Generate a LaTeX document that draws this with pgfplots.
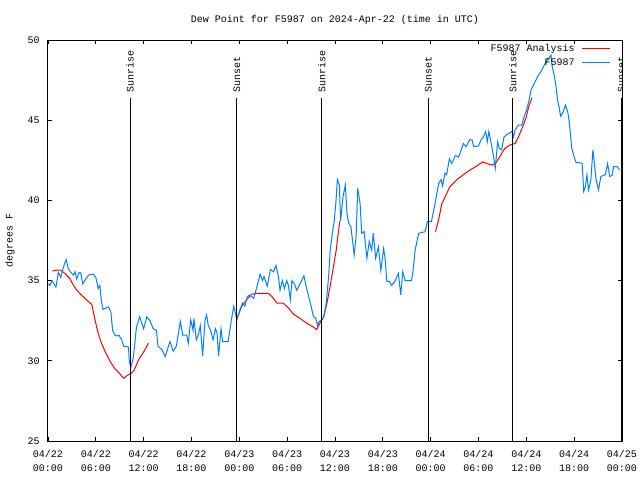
\documentclass[border=0pt]{standalone}
\usepackage{pgfplots}
\pgfplotsset{compat=1.18}
\usepackage{fontspec}
\setmainfont{Liberation Mono}
\definecolor{obsblue}{RGB}{0,128,255}
\definecolor{anred}{RGB}{255,0,0}
\begin{document}
\fontsize{7.5}{8.5}\selectfont
\begin{tikzpicture}
\useasboundingbox (0,0) rectangle (480pt,360pt);
\begin{axis}[
  at={(36pt,29.25pt)}, anchor=south west,
  scale only axis, width=430.5pt, height=300.75pt,
  xmin=0, xmax=72, ymin=25, ymax=50,
  xtick={0,6,...,72},
  xticklabels={{04/22\\00:00},{04/22\\06:00},{04/22\\12:00},{04/22\\18:00},{04/23\\00:00},{04/23\\06:00},{04/23\\12:00},{04/23\\18:00},{04/24\\00:00},{04/24\\06:00},{04/24\\12:00},{04/24\\18:00},{04/25\\00:00}},
  xticklabel style={align=center, font=\fontsize{7.5}{10.5}\selectfont, yshift=-4.5pt},
  yticklabel style={font=\fontsize{7.5}{8.5}\selectfont, xshift=-3.5pt},
  ytick={25,30,...,50},
  tick align=inside, major tick length=3pt,
  tick style={black, line width=0.6pt},
  axis line style={line width=0.75pt},
  /pgf/number format/assume math mode=true,
  title={Dew Point for F5987 on 2024-Apr-22 (time in UTC)},
  title style={at={(0.5,1)}, anchor=base, yshift=7pt, font=\fontsize{7.5}{8.5}\selectfont},
  ylabel={degrees F},
  ylabel style={at={(axis description cs:-0.066,0.5)}, anchor=center, font=\fontsize{7.5}{8.5}\selectfont},
]
\addplot[anred, line width=0.75pt] coordinates {
(0.55,35.6)(1.1,35.65)(1.6,35.65)(2.1,35.45)(2.7,35.15)(3.2,34.7)(3.6,34.4)(4.2,34.1)(4.85,33.8)(5.5,33.5)(5.9,32.55)(6.3,31.7)(6.7,31.1)(7.15,30.6)(7.8,29.95)(8.4,29.5)(9.0,29.2)(9.5,28.9)(9.95,29.1)(10.4,29.2)(10.8,29.4)(11.35,30.05)(12.0,30.55)(12.6,31.1)
};
\addplot[anred, line width=0.75pt] coordinates {
(23.7,32.65)(24.3,33.4)(24.9,33.8)(25.55,34.15)(26.2,34.2)(27.65,34.2)(28.1,34.0)(28.7,33.6)(29.5,33.6)(30.15,33.3)(30.8,32.9)(31.6,32.65)(32.45,32.35)(33.3,32.1)(33.7,31.95)(34.05,32.3)(34.55,32.7)(35.0,33.6)(35.4,34.7)(35.8,35.85)(36.15,36.9)(36.4,37.95)(36.6,38.7)
};
\addplot[anred, line width=0.75pt] coordinates {
(48.6,38.05)(49.0,38.8)(49.4,39.8)(49.8,40.2)(50.4,40.85)(51.3,41.3)(52.1,41.6)(52.95,41.9)(53.8,42.15)(54.5,42.4)(55.05,42.3)(55.7,42.2)(56.2,42.35)(56.7,42.75)(57.3,43.25)(57.95,43.45)(58.6,43.55)(59.0,43.95)(59.55,44.6)(60.0,45.2)(60.3,45.85)(60.7,46.4)
};
\addplot[obsblue, line width=0.75pt] coordinates {
(0,34.8)(0.25,34.7)(0.5,35.0)(1.0,34.6)(1.3,35.5)(1.6,35.2)(1.8,35.6)(2.1,36.1)(2.3,36.3)(2.5,35.8)(2.8,35.55)(3.2,35.35)(3.4,35.55)(3.6,35.1)(3.9,35.5)(4.1,35.5)(4.35,34.8)(4.6,35.0)(5.1,35.35)(5.7,35.4)(6.0,35.2)(6.3,34.5)(6.5,34.7)(6.7,33.7)(6.9,33.2)(7.3,33.3)(7.6,33.35)(7.9,33.0)(8.1,31.9)(8.4,31.6)(8.7,31.55)(8.9,31.6)(9.25,31.3)(9.5,30.9)(9.8,30.9)(10.1,30.85)(10.2,29.95)(10.4,29.6)(10.7,30.2)(11.1,32.1)(11.5,32.75)(12.0,32.0)(12.4,32.75)(12.8,32.5)(13.2,32.0)(13.6,31.9)(13.8,30.9)(14.3,30.7)(14.7,30.25)(15.1,30.9)(15.3,31.2)(15.7,30.6)(16.1,30.9)(16.6,32.45)(16.9,31.6)(17.4,31.6)(17.6,31.1)(17.9,32.55)(18.2,31.9)(18.3,32.65)(18.6,31.3)(18.9,31.7)(19.1,32.2)(19.4,30.3)(19.7,32.55)(19.9,32.85)(20.1,32.2)(20.4,31.9)(20.7,31.3)(21.0,32.0)(21.2,31.75)(21.4,30.3)(21.7,32.0)(21.9,31.2)(22.6,31.2)(23.0,32.55)(23.3,33.4)(23.7,32.55)(24.1,33.2)(24.4,33.6)(24.7,33.4)(25.0,34.0)(25.3,34.1)(25.8,33.9)(26.2,34.6)(26.6,35.4)(26.9,35.0)(27.1,35.25)(27.5,34.65)(27.9,35.7)(28.3,35.55)(28.6,35.95)(28.9,35.25)(29.1,34.4)(29.4,35.0)(29.65,34.5)(29.95,35.0)(30.15,34.7)(30.4,33.8)(30.6,35.0)(30.9,34.8)(31.2,34.4)(31.6,34.8)(32.1,35.3)(32.4,34.6)(32.7,34.0)(33.0,33.4)(33.3,32.75)(33.6,32.65)(33.8,32.2)(34.0,32.45)(34.3,32.55)(34.6,32.75)(34.9,33.6)(35.2,35.25)(35.4,36.9)(35.6,37.7)(35.9,38.7)(36.1,39.8)(36.3,41.3)(36.55,40.95)(36.7,38.7)(37.0,40.2)(37.3,40.95)(37.5,39.2)(37.7,38.6)(38.0,38.35)(38.2,37.5)(38.4,36.6)(38.65,37.75)(38.85,40.75)(39.15,39.8)(39.35,37.95)(39.65,38.05)(40.0,36.4)(40.3,37.45)(40.6,36.9)(40.8,37.95)(41.1,36.4)(41.45,37.1)(41.75,35.65)(42.1,37.0)(42.3,36.3)(42.5,34.95)(42.8,34.95)(43.1,34.7)(43.5,34.95)(43.95,35.45)(44.25,34.1)(44.5,35.55)(44.8,35.0)(45.6,35.0)(45.8,35.65)(46.05,36.9)(46.5,37.95)(47.3,38.05)(47.6,38.7)(48.1,38.7)(48.55,39.8)(49.0,41.05)(49.3,41.3)(49.5,40.9)(49.8,41.7)(50.0,41.6)(50.35,42.6)(50.65,42.3)(51.1,42.8)(51.5,42.7)(51.8,43.1)(52.1,43.55)(52.45,43.35)(52.9,43.8)(53.2,43.75)(53.4,43.35)(54.0,43.4)(54.3,43.75)(54.6,43.95)(54.9,44.3)(55.1,43.65)(55.3,44.3)(55.6,43.55)(55.9,42.7)(56.1,42.0)(56.4,43.65)(56.6,43.25)(56.9,43.15)(57.2,43.95)(57.55,44.1)(57.9,44.2)(58.2,44.3)(58.4,43.95)(58.6,44.4)(59.0,44.7)(59.45,44.7)(59.7,45.2)(60.0,45.6)(60.3,46.15)(60.6,46.9)(60.9,47.2)(61.2,47.5)(61.5,47.8)(61.8,48.0)(62.15,48.35)(62.5,48.65)(62.8,48.85)(63.1,49.05)(63.25,48.35)(63.45,47.9)(63.7,47.2)(63.9,46.3)(64.1,45.85)(64.3,45.25)(64.6,45.5)(64.9,45.95)(65.2,45.5)(65.4,44.8)(65.7,43.25)(66.0,42.7)(66.25,42.35)(66.7,42.35)(67.0,42.3)(67.2,40.55)(67.4,40.85)(67.6,41.6)(67.8,40.65)(68.1,41.3)(68.35,43.15)(68.5,42.5)(68.75,41.3)(69.05,40.65)(69.35,41.5)(69.7,41.55)(69.9,41.6)(70.2,42.3)(70.45,41.5)(70.75,41.55)(70.95,42.1)(71.4,42.1)(71.7,41.9)
};
\addplot[black, line width=0.75pt] coordinates {(10.3,25) (10.3,46.4)};
\addplot[black, line width=0.75pt] coordinates {(23.7,25) (23.7,46.4)};
\addplot[black, line width=0.75pt] coordinates {(34.35,25) (34.35,46.4)};
\addplot[black, line width=0.75pt] coordinates {(47.7,25) (47.7,46.4)};
\addplot[black, line width=0.75pt] coordinates {(58.3,25) (58.3,46.4)};
\addplot[black, line width=0.75pt] coordinates {(71.9,25) (71.9,46.4)};
\node[rotate=90, anchor=west, inner sep=0pt] at (axis cs:10.3,46.7) {Sunrise};
\node[rotate=90, anchor=west, inner sep=0pt] at (axis cs:23.7,46.7) {Sunset};
\node[rotate=90, anchor=west, inner sep=0pt] at (axis cs:34.35,46.7) {Sunrise};
\node[rotate=90, anchor=west, inner sep=0pt] at (axis cs:47.7,46.7) {Sunset};
\node[rotate=90, anchor=west, inner sep=0pt] at (axis cs:58.3,46.7) {Sunrise};
\node[rotate=90, anchor=west, inner sep=0pt] at (axis cs:71.9,46.7) {Sunset};
% key
\node[anchor=east, inner sep=0pt] at (rel axis cs:0.918,0.9776) {F5987 Analysis};
\node[anchor=east, inner sep=0pt] at (rel axis cs:0.918,0.9451) {F5987};
\draw[anred, line width=0.75pt] (rel axis cs:0.930,0.9776) -- (rel axis cs:0.979,0.9776);
\draw[obsblue, line width=0.75pt] (rel axis cs:0.930,0.9451) -- (rel axis cs:0.979,0.9451);
\end{axis}
\end{tikzpicture}
\end{document}
